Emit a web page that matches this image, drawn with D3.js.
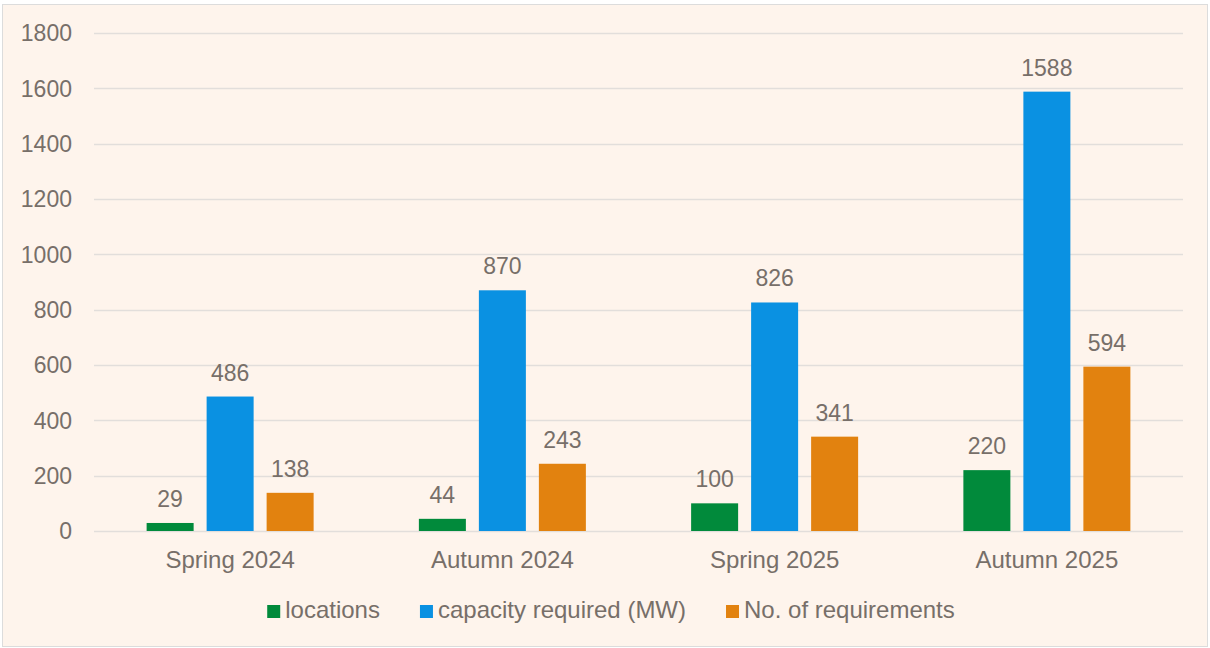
<!DOCTYPE html>
<html>
<head>
<meta charset="utf-8">
<script src="https://cdn.jsdelivr.net/npm/d3@7"></script>
<style>
  body { margin: 0; background: #fff; }
  svg { display: block; font-family: "Liberation Sans", Arial, sans-serif; }
</style>
</head>
<body>
<div id="chart"></div>
<script>
// data
const categories = ["Spring 2024", "Autumn 2024", "Spring 2025", "Autumn 2025"];
const seriesNames = ["locations", "capacity required (MW)", "No. of requirements"];
const locations = [29, 44, 100, 220];
const capacity = [486, 870, 826, 1588];
const requirements = [138, 243, 341, 594];
const yTicks = [0, 200, 400, 600, 800, 1000, 1200, 1400, 1600, 1800];
const colors = ["#018a3b", "#0a91e2", "#e2820f"];

const width = 1210, height = 648;
const margin = { top: 33, right: 27, bottom: 117, left: 94 };
const textColor = "#776f69";

const svg = d3.select("#chart")
  .append("svg")
    .attr("width", width)
    .attr("height", height);

// chart background + border
svg.append("rect")
  .attr("x", 2.5).attr("y", 4.5)
  .attr("width", 1205).attr("height", 642)
  .attr("fill", "#fef4ec")
  .attr("stroke", "#dcdcdc");

const rows = categories.map((c, i) => ({
  category: c,
  values: [locations[i], capacity[i], requirements[i]]
}));

const x0 = d3.scaleBand()
  .domain(categories)
  .range([margin.left, width - margin.right]);

const groupW = 167;
const x1 = d3.scaleBand()
  .domain(seriesNames)
  .range([x0.bandwidth() / 2 - groupW / 2, x0.bandwidth() / 2 + groupW / 2])
  .paddingInner(13 / 60);

const y = d3.scaleLinear()
  .domain([0, 1800])
  .range([height - margin.bottom, margin.top]);

// gridlines
svg.append("g")
  .selectAll("line")
  .data(yTicks)
  .join("line")
    .attr("x1", margin.left)
    .attr("x2", width - margin.right)
    .attr("y1", d => Math.round(y(d)) + 0.5)
    .attr("y2", d => Math.round(y(d)) + 0.5)
    .attr("stroke", "#e2dedb")
    .attr("stroke-width", 1.5);

// y axis labels
const yAxis = svg.append("g")
  .attr("transform", `translate(${margin.left - 22},0)`)
  .call(d3.axisLeft(y).tickValues(yTicks).tickFormat(d3.format("d")).tickSize(0).tickPadding(0));
yAxis.select(".domain").remove();
yAxis.selectAll("text")
  .attr("fill", textColor)
  .attr("dy", "0.34em")
  .style("font-size", "23px");

// x axis labels
const xAxis = svg.append("g")
  .attr("transform", `translate(0,${height - margin.bottom})`)
  .call(d3.axisBottom(x0).tickSize(0).tickPadding(0));
xAxis.select(".domain").remove();
xAxis.selectAll("text")
  .attr("fill", textColor)
  .attr("y", 37)
  .attr("dy", 0)
  .style("font-size", "24px");

// bars
const groups = svg.append("g")
  .selectAll("g")
  .data(rows)
  .join("g")
    .attr("transform", d => `translate(${x0(d.category)},0)`);

groups.selectAll("rect")
  .data(d => d.values.map((v, i) => ({ name: seriesNames[i], value: v, i })))
  .join("rect")
    .attr("x", d => x1(d.name))
    .attr("y", d => y(d.value))
    .attr("width", x1.bandwidth())
    .attr("height", d => y(0) - y(d.value))
    .attr("fill", d => colors[d.i]);

groups.selectAll("text")
  .data(d => d.values.map((v, i) => ({ name: seriesNames[i], value: v })))
  .join("text")
    .attr("x", d => x1(d.name) + x1.bandwidth() / 2)
    .attr("y", d => y(d.value) - 16)
    .attr("text-anchor", "middle")
    .attr("fill", textColor)
    .style("font-size", "23px")
    .text(d => d.value);

// legend
const legend = svg.append("g").attr("transform", "translate(0,618)");
const items = legend.selectAll("g")
  .data(seriesNames)
  .join("g");
items.append("rect")
  .attr("y", -13).attr("width", 13).attr("height", 13)
  .attr("fill", (d, i) => colors[i]);
items.append("text")
  .attr("x", 18)
  .attr("fill", textColor)
  .style("font-size", "24px")
  .text(d => d);

// lay out legend items by measured widths, centred on the chart box
const gap = 40;
let widths = [];
items.each(function () { widths.push(this.getBBox().width); });
const total = d3.sum(widths) + gap * (widths.length - 1);
let cx = 611 - total / 2;
items.attr("transform", (d, i) => {
  const tx = cx;
  cx += widths[i] + gap;
  return `translate(${tx},0)`;
});
</script>
</body>
</html>
